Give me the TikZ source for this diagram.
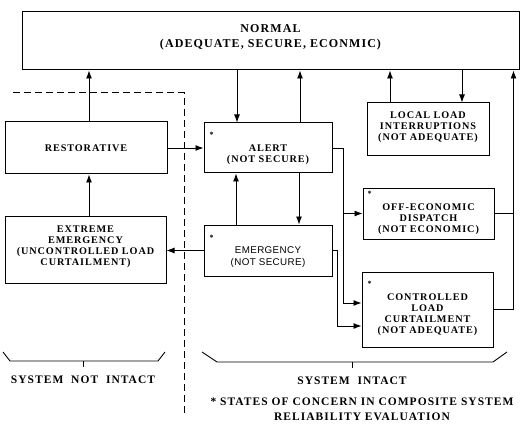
\documentclass[tikz,border=0pt]{standalone}
\usepackage{fontspec}
\setmainfont{Liberation Serif}
\newfontfamily\lblfont[LetterSpace=9]{Liberation Serif}
\newfontfamily\sanslbl[LetterSpace=4]{Liberation Sans}
\usetikzlibrary{arrows.meta,calc}
\begin{document}
\begin{tikzpicture}[x=1pt,y=-1pt,
  stbox/.style={draw,line width=1pt,inner sep=0pt},
  txt/.style={align=center,inner sep=0pt,font=\lblfont\bfseries\fontsize{10.2}{11}\selectfont},
  bigtxt/.style={align=center,inner sep=0pt,font=\lblfont\bfseries\fontsize{11.5}{15}\selectfont},
  sanstxt/.style={align=center,inner sep=0pt,font=\sanslbl\fontsize{9.8}{12}\selectfont},
  starmark/.style={inner sep=0pt,font=\bfseries\fontsize{8}{8}\selectfont},
  arr/.style={line width=0.9pt,-{Latex[length=8pt,width=6pt]}},
  plain/.style={line width=0.9pt},
  dashline/.style={line width=1pt,dash pattern=on 7pt off 4pt},
  bracel/.style={line width=0.9pt}]
\useasboundingbox (0,0) rectangle (523,428);

% boxes
\node[stbox,minimum width=497,minimum height=58] (normal) at (270.5,41) {};
\node[txt,font=\lblfont\bfseries\fontsize{12}{15}\selectfont] (normalT) at (270.5,37) {NORMAL\\(ADEQUATE, SECURE, ECONMIC)};

\node[stbox,minimum width=162,minimum height=52] (restor) at (86,148) {};
\node[txt] (restorT) at (86,148) {RESTORATIVE};

\node[stbox,minimum width=161,minimum height=67] (extreme) at (85.5,249.5) {};
\node[txt] (extremeT) at (85.5,247) {EXTREME\\EMERGENCY\\(UNCONTROLLED LOAD\\CURTAILMENT)};

\node[stbox,minimum width=128,minimum height=50] (alert) at (268,148) {};
\node[txt] (alertT) at (268,155) {ALERT\\(NOT SECURE)};
\node[starmark] (alertS) at ($(alert.north west)+(8,12)$) {*};

\node[stbox,minimum width=128,minimum height=51] (emerg) at (268,250.5) {};
\node[sanstxt] (emergT) at (268,257) {EMERGENCY\\(NOT SECURE)};
\node[starmark] (emergS) at ($(emerg.north west)+(8,13)$) {*};

\node[stbox,minimum width=122,minimum height=53] (local) at (428,129.5) {};
\node[txt] (localT) at (428,127) {LOCAL LOAD\\INTERRUPTIONS\\(NOT ADEQUATE)};

\node[stbox,minimum width=131,minimum height=51] (offecon) at (428.5,213.5) {};
\node[txt] (offeconT) at (428.5,219.5) {OFF-ECONOMIC\\DISPATCH\\(NOT ECONOMIC)};
\node[starmark] (offeconS) at ($(offecon.north west)+(7,6)$) {*};

\node[stbox,minimum width=131,minimum height=75] (controlled) at (427.5,309.5) {};
\node[txt] (controlledT) at (427.5,315) {CONTROLLED\\LOAD\\CURTAILMENT\\(NOT ADEQUATE)};
\node[starmark] (controlledS) at ($(controlled.north west)+(8,12)$) {*};

% connectors
\coordinate (c1) at ($(restor.north)+(3,0)$);
\draw[arr] (c1) -- (c1 |- normal.south);
\coordinate (c2) at ($(extreme.north)+(3.5,0)$);
\draw[arr] (c2) -- (c2 |- restor.south);
\coordinate (c3) at ($(alert.north)+(-31,0)$);
\draw[arr] (c3 |- normal.south) -- (c3);
\coordinate (c4) at ($(alert.north)+(32,0)$);
\draw[arr] (c4) -- (c4 |- normal.south);
\coordinate (c5) at ($(local.north)+(-38,0)$);
\draw[arr] (c5) -- (c5 |- normal.south);
\coordinate (c6) at ($(local.north)+(34,0)$);
\draw[arr] (c6 |- normal.south) -- (c6);
\coordinate (c7) at ($(emerg.north)+(-32,0)$);
\draw[arr] (c7) -- (c7 |- alert.south);
\coordinate (c8) at ($(alert.south)+(31,0)$);
\draw[arr] (c8) -- (c8 |- emerg.north);
\draw[arr] (restor.east) -- (alert.west);
\draw[arr] (emerg.west) -- (emerg.west -| extreme.east);

\coordinate (cJ) at ($(alert.east)+(11,0)$);
\coordinate (cA) at ($(controlled.west)+(0,-6.5)$);
\draw[arr] (alert.east) -- (cJ) |- (cA);
\draw[arr] (cJ |- offecon.west) -- (offecon.west);
\coordinate (cK) at ($(emerg.east)+(5,0)$);
\coordinate (cB) at ($(controlled.west)+(0,16.5)$);
\draw[arr] (emerg.east) -- (cK) |- (cB);
\coordinate (cN) at ($(normal.south east)+(-6,0)$);
\draw[arr] (controlled.east) -| (cN);
\draw[plain] (offecon.east) -- (offecon.east -| cN);

% dashed boundary
\coordinate (d1) at (13,93);
\coordinate (d2) at (184,93);
\coordinate (d3) at (184,413);
\draw[dashline] (d1) -- (d2) -- (d3);

% braces
\coordinate (bl1) at (3,352);
\coordinate (bl2) at (10,361);
\coordinate (bl3) at (158,361);
\coordinate (bl4) at (165,352);
\coordinate (blm) at (83,361);
\draw[bracel] (bl1) -- (bl2) -- (bl3) -- (bl4);
\draw[bracel] (blm) -- ++(0,6);
\node[bigtxt] (notintact) at (83,380) {SYSTEM\ \ NOT\ \ INTACT};

\coordinate (br1) at (202,352);
\coordinate (br2) at (217,362);
\coordinate (br3) at (493,362);
\coordinate (br4) at (507,352);
\coordinate (brm) at (352,362);
\draw[bracel] (br1) -- (br2) -- (br3) -- (br4);
\draw[bracel] (brm) -- ++(0,6);
\node[bigtxt] (intact) at (352,381) {SYSTEM\ \ INTACT};

\node[bigtxt] (note) at (362,409.5) {* STATES OF CONCERN IN COMPOSITE SYSTEM\\RELIABILITY EVALUATION};
\end{tikzpicture}
\end{document}
